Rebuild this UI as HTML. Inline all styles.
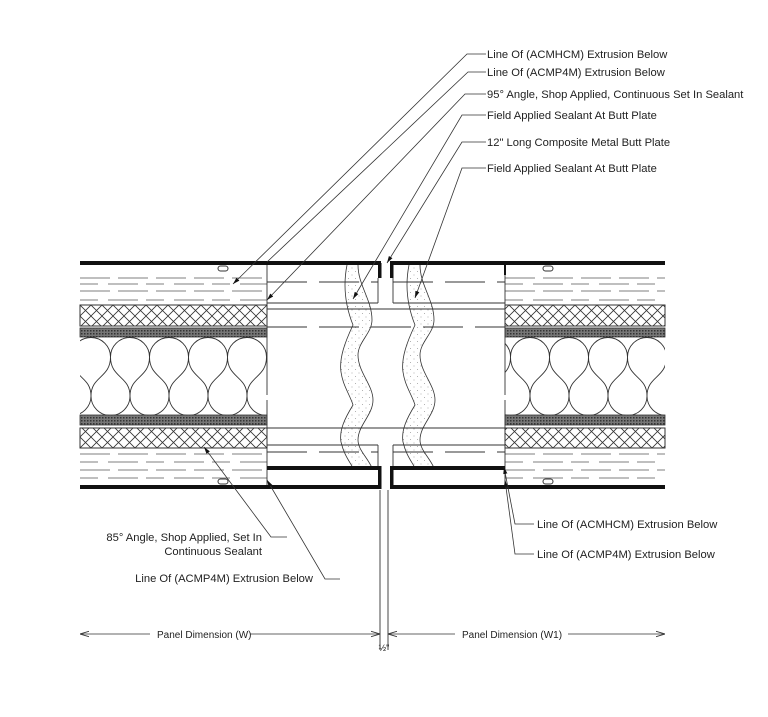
<!DOCTYPE html>
<html><head><meta charset="utf-8"><style>
html,body{margin:0;padding:0;background:#fff}
svg{display:block}
text{font-family:"Liberation Sans",Arial,sans-serif;font-size:11.2px;fill:#222}
</style></head><body>
<svg width="768" height="717" viewBox="0 0 768 717" xmlns="http://www.w3.org/2000/svg">
<defs>
<pattern id="xh" width="11" height="11" patternUnits="userSpaceOnUse" x="80" y="305">
<path d="M0,0 L11,11 M11,0 L0,11" stroke="#333" stroke-width="0.8"/>
</pattern>
<pattern id="dk" width="3" height="3" patternUnits="userSpaceOnUse">
<rect width="3" height="3" fill="#777"/><rect width="1.5" height="1.5" fill="#333"/>
</pattern>
<pattern id="st" width="7" height="7" patternUnits="userSpaceOnUse">
<circle cx="2" cy="2" r="0.5" fill="#999"/><circle cx="5.5" cy="5.5" r="0.5" fill="#999"/>
</pattern>
<path id="lb" d="M-19.5,357 A19.5,19.5 0 0 1 19.5,357 M19.5,357 C19.5,378 0,376 0,396 M19.5,357 C19.5,378 39,376 39,396 M0,396 A19.5,19.5 0 0 0 39,396" fill="none" stroke="#333" stroke-width="0.9"/>
<clipPath id="cl"><rect x="80" y="337" width="187" height="78"/></clipPath>
<clipPath id="cr"><rect x="505" y="337" width="160" height="78"/></clipPath>
<marker id="ar" viewBox="0 0 10 10" refX="10" refY="5" markerWidth="7" markerHeight="7" orient="auto-start-reverse" markerUnits="userSpaceOnUse">
<path d="M0,2 L10,5 L0,8 z" fill="#111"/></marker>
<marker id="ao" viewBox="0 0 10 10" refX="10" refY="5" markerWidth="9" markerHeight="9" orient="auto-start-reverse" markerUnits="userSpaceOnUse">
<path d="M0,2 L10,5 L0,8" fill="none" stroke="#333"/></marker>
</defs>

<g stroke="#333" fill="none">
<g stroke-width="0.8" stroke="#555">
<line x1="80" y1="278" x2="267" y2="278" stroke-dasharray="30,8"/>
<line x1="80" y1="284" x2="267" y2="284" stroke-dasharray="18,10,30,8"/>
<line x1="80" y1="291" x2="267" y2="291" stroke-dasharray="30,8"/>
<line x1="80" y1="300" x2="267" y2="300" stroke-dasharray="18,10,30,8"/>
<line x1="80" y1="454" x2="267" y2="454" stroke-dasharray="30,8"/>
<line x1="80" y1="462" x2="267" y2="462" stroke-dasharray="18,10,30,8"/>
<line x1="80" y1="470" x2="267" y2="470" stroke-dasharray="30,8"/>
<line x1="80" y1="478" x2="267" y2="478" stroke-dasharray="18,10,30,8"/>
<line x1="505" y1="278" x2="665" y2="278" stroke-dasharray="30,8"/>
<line x1="505" y1="284" x2="665" y2="284" stroke-dasharray="18,10,30,8"/>
<line x1="505" y1="291" x2="665" y2="291" stroke-dasharray="30,8"/>
<line x1="505" y1="300" x2="665" y2="300" stroke-dasharray="18,10,30,8"/>
<line x1="505" y1="454" x2="665" y2="454" stroke-dasharray="30,8"/>
<line x1="505" y1="462" x2="665" y2="462" stroke-dasharray="18,10,30,8"/>
<line x1="505" y1="470" x2="665" y2="470" stroke-dasharray="30,8"/>
<line x1="505" y1="478" x2="665" y2="478" stroke-dasharray="18,10,30,8"/>
</g>
<rect x="80" y="305" width="187" height="21" fill="url(#xh)" stroke-width="1"/>
<rect x="80" y="328" width="187" height="9" fill="url(#dk)" stroke-width="0.8"/>
<rect x="80" y="415" width="187" height="10" fill="url(#dk)" stroke-width="0.8"/>
<rect x="80" y="428" width="187" height="20" fill="url(#xh)" stroke-width="1"/>
<rect x="505" y="305" width="160" height="21" fill="url(#xh)" stroke-width="1"/>
<rect x="505" y="328" width="160" height="9" fill="url(#dk)" stroke-width="0.8"/>
<rect x="505" y="415" width="160" height="10" fill="url(#dk)" stroke-width="0.8"/>
<rect x="505" y="428" width="160" height="20" fill="url(#xh)" stroke-width="1"/>
<g clip-path="url(#cl)">
<use href="#lb" x="52"/><use href="#lb" x="91"/><use href="#lb" x="130"/><use href="#lb" x="169"/><use href="#lb" x="208"/><use href="#lb" x="247"/>
</g>
<g clip-path="url(#cr)">
<use href="#lb" x="491"/><use href="#lb" x="530"/><use href="#lb" x="569"/><use href="#lb" x="608"/><use href="#lb" x="647"/>
</g>
<rect x="218" y="266" width="10" height="5" rx="2.5" stroke-width="1"/>
<rect x="218" y="479" width="10" height="5" rx="2.5" stroke-width="1"/>
<rect x="543" y="266" width="10" height="5" rx="2.5" stroke-width="1"/>
<rect x="543" y="479" width="10" height="5" rx="2.5" stroke-width="1"/>

<path d="M347,265 C343,285 345,305 353,325 C345,342 339,358 341,372 C343,386 350,395 353,405 C345,418 339,430 341,442 C344,455 350,462 353,468 L372,468 C368,458 358,450 358,440 C358,425 373,415 373,400 C373,385 358,372 358,355 C358,342 372,333 372,320 C372,300 358,285 358,265 Z" fill="url(#st)" stroke="none"/>
<path d="M347,265 C343,285 345,305 353,325 C345,342 339,358 341,372 C343,386 350,395 353,405 C345,418 339,430 341,442 C344,455 350,462 353,468" stroke-width="0.8"/>
<path d="M358,265 C358,285 372,300 372,320 C372,333 358,342 358,355 C358,372 373,385 373,400 C373,415 358,425 358,440 C358,450 368,458 372,468" stroke-width="0.8"/>
<g transform="translate(62,0)">
<path d="M347,265 C343,285 345,305 353,325 C345,342 339,358 341,372 C343,386 350,395 353,405 C345,418 339,430 341,442 C344,455 350,462 353,468 L372,468 C368,458 358,450 358,440 C358,425 373,415 373,400 C373,385 358,372 358,355 C358,342 372,333 372,320 C372,300 358,285 358,265 Z" fill="url(#st)" stroke="none"/>
<path d="M347,265 C343,285 345,305 353,325 C345,342 339,358 341,372 C343,386 350,395 353,405 C345,418 339,430 341,442 C344,455 350,462 353,468" stroke-width="0.8"/>
<path d="M358,265 C358,285 372,300 372,320 C372,333 358,342 358,355 C358,372 373,385 373,400 C373,415 358,425 358,440 C358,450 368,458 372,468" stroke-width="0.8"/>
</g>
<g stroke-width="0.9">
<line x1="267" y1="263" x2="267" y2="395"/>
<line x1="267" y1="400" x2="267" y2="487"/>
<line x1="505" y1="263" x2="505" y2="395"/>
<line x1="505" y1="400" x2="505" y2="487"/>
<line x1="267" y1="303" x2="378" y2="303"/>
<line x1="393" y1="303" x2="505" y2="303"/>
<line x1="378" y1="278" x2="378" y2="303"/>
<line x1="393" y1="278" x2="393" y2="303"/>
<line x1="267" y1="309" x2="505" y2="309"/>
<line x1="267" y1="327" x2="505" y2="327" stroke-dasharray="40,12"/>
<line x1="267" y1="282" x2="378" y2="282" stroke-dasharray="40,12"/>
<line x1="393" y1="282" x2="505" y2="282" stroke-dasharray="40,12"/>
<line x1="267" y1="428" x2="505" y2="428"/>
<line x1="267" y1="445" x2="378" y2="445"/>
<line x1="393" y1="445" x2="505" y2="445"/>
<line x1="378" y1="445" x2="378" y2="468"/>
<line x1="393" y1="445" x2="393" y2="468"/>
<line x1="267" y1="452" x2="378" y2="452" stroke-dasharray="40,12"/>
<line x1="393" y1="452" x2="505" y2="452" stroke-dasharray="40,12"/>
<line x1="380" y1="490" x2="380" y2="650"/>
<line x1="388" y1="490" x2="388" y2="650"/>
</g>
</g>
<g fill="#111">
<rect x="80" y="261" width="301" height="4"/>
<rect x="390" y="261" width="275" height="4"/>
<rect x="378" y="263" width="3.5" height="15"/>
<rect x="390" y="263" width="3.5" height="15"/>
<rect x="504" y="263" width="2" height="12"/>
<rect x="267" y="466" width="114" height="4"/>
<rect x="390" y="466" width="115" height="4"/>
<rect x="378" y="466" width="3.5" height="23"/>
<rect x="390" y="466" width="3.5" height="23"/>
<rect x="80" y="485" width="301" height="4"/>
<rect x="390" y="485" width="275" height="4"/>
</g>

<g stroke="#333" stroke-width="0.8" fill="none">
<polyline points="486,54 467,54 233,284" marker-end="url(#ar)"/>
<polyline points="486,72 468,72 267,262"/>
<polyline points="486,94 465,94 267,300" marker-end="url(#ar)"/>
<polyline points="486,115 462,115 353,299" marker-end="url(#ar)"/>
<polyline points="486,142 462,142 387,263" marker-end="url(#ar)"/>
<polyline points="486,168 462,168 415,298" marker-end="url(#ar)"/>
<polyline points="287,537 271,537 204,447" marker-end="url(#ar)"/>
<polyline points="340,579 325,579 267,480" marker-end="url(#ar)"/>
<polyline points="534,524 515,524 504,467" marker-end="url(#ar)"/>
<polyline points="534,554 515,554 505,480" marker-end="url(#ar)"/>
<line x1="80" y1="634" x2="150" y2="634" marker-start="url(#ao)"/>
<line x1="250" y1="634" x2="380" y2="634" marker-end="url(#ao)"/>
<line x1="388" y1="634" x2="455" y2="634" marker-start="url(#ao)"/>
<line x1="568" y1="634" x2="665" y2="634" marker-end="url(#ao)"/>
</g>

<text x="487" y="58">Line Of (ACMHCM) Extrusion Below</text>
<text x="487" y="76">Line Of (ACMP4M) Extrusion Below</text>
<text x="487" y="98">95° Angle, Shop Applied, Continuous Set In Sealant</text>
<text x="487" y="119">Field Applied Sealant At Butt Plate</text>
<text x="487" y="146">12" Long Composite Metal Butt Plate</text>
<text x="487" y="172">Field Applied Sealant At Butt Plate</text>
<text x="262" y="541" text-anchor="end">85° Angle, Shop Applied,  Set In</text>
<text x="262" y="555" text-anchor="end">Continuous Sealant</text>
<text x="313" y="582" text-anchor="end">Line Of (ACMP4M) Extrusion Below</text>
<text x="537" y="528">Line Of (ACMHCM) Extrusion Below</text>
<text x="537" y="558">Line Of (ACMP4M) Extrusion Below</text>
<text x="157" y="638" style="font-size:10px">Panel Dimension (W)</text>
<text x="462" y="638" style="font-size:10px">Panel Dimension (W1)</text>
<text x="384" y="651" text-anchor="middle" style="font-size:9px">½"</text>
</svg>
</body></html>
